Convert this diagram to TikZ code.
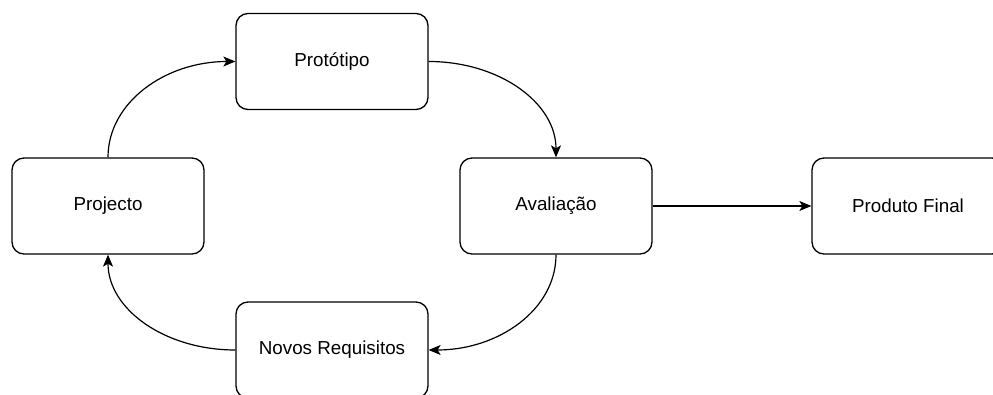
\documentclass[tikz,border=0pt]{standalone}
\usepackage{fontspec}
\setmainfont{Liberation Sans}
\usetikzlibrary{arrows.meta}
\begin{document}
\begin{tikzpicture}[x=1pt,y=-1pt,
  stage/.style={draw=black, line width=1.3pt, rounded corners=12pt, fill=white,
    minimum width=192pt, minimum height=96pt, inner sep=0pt,
    font=\fontsize{18.8pt}{22pt}\selectfont},
  flow/.style={draw=black, line width=1.2pt,
    -{Stealth[length=12pt,width=10pt,inset=3pt]}}]
  \clip (0,0) rectangle (993,395);
  \fill[white] (0,0) rectangle (993,395);

  \node[stage] (proto) at (332,61.5) {Protótipo};
  \node[stage] (proj)  at (108,206)  {Projecto};
  \node[stage] (aval)  at (556,206)  {Avaliação};
  \node[stage] (final) at (908,206)  {Produto Final};
  \node[stage] (novos) at (332,350)  {Novos Requisitos};

  \draw[flow] (proj.north) .. controls +(0,-55) and +(-70,0) .. (proto.west);
  \draw[flow] (proto.east) .. controls +(70,0) and +(0,-55) .. (aval.north);
  \draw[flow] (aval.south) .. controls +(0,55) and +(70,0) .. (novos.east);
  \draw[flow] (novos.west) .. controls +(-70,0) and +(0,55) .. (proj.south);
  \draw[flow] (aval.east) -- (final.west);
\end{tikzpicture}
\end{document}
